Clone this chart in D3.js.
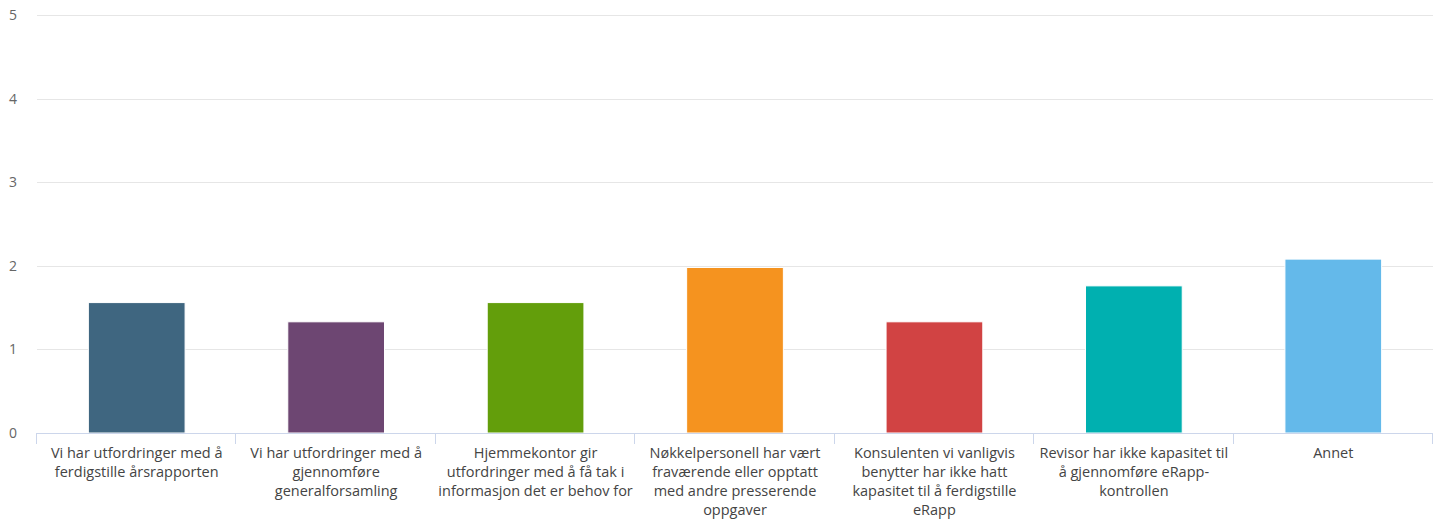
<!DOCTYPE html>
<html>
<head>
<meta charset="utf-8">
<script src="https://cdn.jsdelivr.net/npm/d3@7"></script>
<style>
  body { margin: 0; background: #fff; }
  text { font-family: "Open Sans", sans-serif; }
</style>
</head>
<body>
<div id="container"></div>
<script>
// data
const categories = [
  "Vi har utfordringer med å ferdigstille årsrapporten",
  "Vi har utfordringer med å gjennomføre generalforsamling",
  "Hjemmekontor gir utfordringer med å få tak i informasjon det er behov for",
  "Nøkkelpersonell har vært fraværende eller opptatt med andre presserende oppgaver",
  "Konsulenten vi vanligvis benytter har ikke hatt kapasitet til å ferdigstille eRapp",
  "Revisor har ikke kapasitet til å gjennomføre eRapp-kontrollen",
  "Annet"
]
const values = [1.56, 1.33, 1.56, 1.98, 1.33, 1.76, 2.08]
const colors = ["#3f6680", "#6d4672", "#639e0b", "#f5931f", "#d14343", "#00b0b0", "#64b9ea"]
const yTicks = [0, 1, 2, 3, 4, 5]

const w = 1442, h = 522
const m = { top: 15, right: 9, bottom: 89, left: 37 }
const width = w - m.left - m.right
const height = h - m.top - m.bottom

const svg = d3.select("#container").append("svg")
  .attr("width", w).attr("height", h)

const g = svg.append("g").attr("transform", `translate(${m.left},${m.top})`)

const x = d3.scaleBand().domain(categories).range([0, width]).paddingInner(0).paddingOuter(0)
const y = d3.scaleLinear().domain([0, 5]).range([height, 0])

// gridlines
g.selectAll(".grid").data(yTicks).join("line")
  .attr("x1", 0).attr("x2", width)
  .attr("y1", d => Math.round(y(d)) + 0.5).attr("y2", d => Math.round(y(d)) + 0.5)
  .attr("stroke", "#e6e6e6")

// y labels
g.selectAll(".ylab").data(yTicks).join("text")
  .attr("x", -28).attr("y", d => y(d) + 5)
  .attr("text-anchor", "start")
  .attr("fill", "#666").style("font-size", "14px")
  .text(d => d)

// bars
const bw = x.bandwidth() * 0.485
g.selectAll(".bar").data(values).join("rect")
  .attr("x", (d, i) => x(categories[i]) + x.bandwidth() / 2 - bw / 2)
  .attr("y", d => y(d))
  .attr("width", bw)
  .attr("height", d => height - y(d))
  .attr("fill", (d, i) => colors[i])
  .attr("stroke", "#fff").attr("stroke-width", 1)

// x axis line and ticks
g.append("line")
  .attr("x1", 0).attr("x2", width)
  .attr("y1", height + 0.5).attr("y2", height + 0.5)
  .attr("stroke", "#ccd6eb")
const tickPos = categories.map(c => x(c)).concat([width])
g.selectAll(".tick").data(tickPos).join("line")
  .attr("x1", d => Math.round(d) - 0.5).attr("x2", d => Math.round(d) - 0.5)
  .attr("y1", height).attr("y2", height + 11)
  .attr("stroke", "#ccd6eb")

// wrapped category labels
const labels = g.selectAll(".xlab").data(categories).join("text")
  .attr("text-anchor", "middle")
  .attr("fill", "#444").style("font-size", "14.5px")
  .attr("transform", d => `translate(${x(d) + x.bandwidth() / 2},${height + 25})`)

const maxW = x.bandwidth() - 2
labels.each(function (d) {
  const t = d3.select(this)
  // tokens: split on spaces, and after hyphens
  const tokens = []
  d.split(" ").forEach(wd => {
    const parts = wd.split(/(?<=-)/)
    parts.forEach((p, k) => tokens.push({ s: p, sep: k === 0 ? " " : "" }))
  })
  let cur = ""
  let tspan = t.append("tspan").attr("x", 0).attr("dy", 0)
  tokens.forEach((tk, i) => {
    const next = cur === "" ? tk.s : cur + tk.sep + tk.s
    tspan.text(next)
    if (cur !== "" && tspan.node().getComputedTextLength() > maxW) {
      tspan.text(cur)
      cur = tk.s
      tspan = t.append("tspan").attr("x", 0).attr("dy", 19).text(cur)
    } else {
      cur = next
    }
  })
})
</script>
</body>
</html>
